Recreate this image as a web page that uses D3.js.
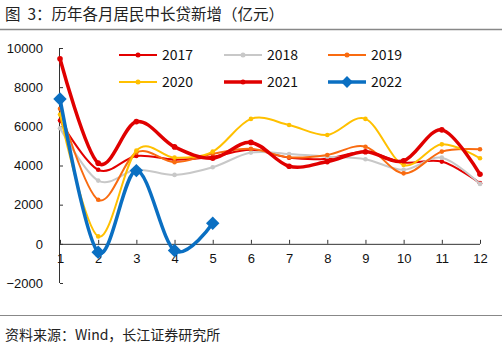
<!DOCTYPE html>
<html><head><meta charset="utf-8">
<script src="https://cdn.jsdelivr.net/npm/d3@7"></script>
<style>
html,body{margin:0;padding:0;background:#fff;}
svg{display:block;}
</style></head>
<body>
<svg id="c" width="502" height="352"></svg>
<script>
const months = [1,2,3,4,5,6,7,8,9,10,11,12];
const yTicks = [-2000,0,2000,4000,6000,8000,10000];
const years = ["2017","2018","2019","2020","2021","2022"];
const s2017 = [6300,3780,4490,4300,4450,4800,4400,4350,4700,4150,4200,3100];
const s2018 = [5900,3230,3780,3520,3910,4660,4590,4450,4320,3780,4400,3060];
const s2019 = [6900,2250,4660,4170,4600,4850,4420,4540,4960,3600,4710,4830];
const s2020 = [6600,380,4760,4400,4710,6380,6070,5560,6380,4030,5080,4370];
const s2021 = [9450,4120,6240,4950,4370,5180,3960,4200,4700,4240,5820,3550];
const s2022 = [7400,-430,3740,-340,1050];
const seriesValues = [s2017,s2018,s2019,s2020,s2021,s2022];
const colors = ["#E30000","#C8C8C8","#F96B10","#FFC000","#E00000","#0A6FC2"];
const widths = [2,2,2,2,3.5,3.5];
const title = "图\u00a0\u00a03：历年各月居民中长贷新增（亿元）";
const source = "资料来源：Wind，长江证券研究所";

const svg = d3.select("#c");
const x = d3.scaleLinear().domain([1,12]).range([60,480]);
const y = d3.scaleLinear().domain([-2000,10000]).range([283,48]);

// title
svg.append("text").attr("x",5).attr("y",20).attr("font-family","'Noto Sans CJK SC',sans-serif")
  .attr("font-size",15.5).attr("fill","#222").text(title);
svg.append("line").attr("x1",0).attr("x2",502).attr("y1",29.5).attr("y2",29.5).attr("stroke","#888").attr("stroke-width",1.5);
svg.append("line").attr("x1",0).attr("x2",502).attr("y1",315.5).attr("y2",315.5).attr("stroke","#888").attr("stroke-width",1.2);
svg.append("text").attr("x",5).attr("y",340).attr("font-family","'Noto Sans CJK SC',sans-serif")
  .attr("font-size",14).attr("fill","#222").text(source);

// y axis
const ya = svg.append("g").attr("transform","translate(60,0)")
  .call(d3.axisLeft(y).tickValues(yTicks).tickSize(-3).tickPadding(17).tickFormat(d3.format("d")));
ya.select(".domain").attr("stroke","#333").attr("d","M-0.5,"+y(-2000)+"V"+y(10000));
ya.selectAll(".tick line").attr("stroke","#333");
ya.selectAll("text").attr("font-family","'Liberation Sans',Arial,sans-serif").attr("font-size",13).attr("fill","#111");

// x axis at zero
const xa = svg.append("g").attr("transform","translate(0,"+y(0)+")")
  .call(d3.axisBottom(x).tickValues(months).tickSize(-4).tickPadding(10).tickFormat(d3.format("d")));
xa.select(".domain").attr("stroke","#333").attr("d","M60,0.5H480");
xa.selectAll(".tick line").attr("stroke","#333");
xa.selectAll("text").attr("font-family","'Liberation Sans',Arial,sans-serif").attr("font-size",13).attr("fill","#111");

const line = d3.line().x((d,i)=>x(months[i])).y(d=>y(d)).curve(d3.curveCardinal.tension(0));
const plot = svg.append("g");
seriesValues.forEach((vals,k)=>{
  plot.append("path").attr("d",line(vals)).attr("fill","none").attr("stroke",colors[k]).attr("stroke-width",widths[k]).attr("stroke-linejoin","round");
  if(k===5){
    plot.selectAll(null).data(vals).enter().append("path")
      .attr("d",d3.symbol(d3.symbolSquare,90))
      .attr("transform",(d,i)=>"translate("+x(months[i])+","+y(d)+") rotate(45)")
      .attr("fill",colors[k]);
  } else {
    plot.selectAll(null).data(vals).enter().append("circle")
      .attr("cx",(d,i)=>x(months[i])).attr("cy",d=>y(d)).attr("r",k===4?2.8:2.3).attr("fill",colors[k]);
  }
});

// legend
const legX = [119,224,328];
const legY = [55,82];
years.forEach((yr,k)=>{
  const lx = legX[k%3], ly = legY[Math.floor(k/3)];
  const g = svg.append("g");
  g.append("line").attr("x1",lx).attr("x2",lx+38).attr("y1",ly).attr("y2",ly).attr("stroke",colors[k]).attr("stroke-width",widths[k]);
  if(k===5){
    g.append("path").attr("d",d3.symbol(d3.symbolSquare,70)).attr("transform","translate("+(lx+19)+","+ly+") rotate(45)").attr("fill",colors[k]);
  } else {
    g.append("circle").attr("cx",lx+19).attr("cy",ly).attr("r",2.5).attr("fill",colors[k]);
  }
  g.append("text").attr("x",lx+43).attr("y",ly+5).attr("font-family","'Noto Sans CJK SC',sans-serif")
    .attr("font-size",14).attr("fill","#111").text(yr);
});
</script>
</body></html>
